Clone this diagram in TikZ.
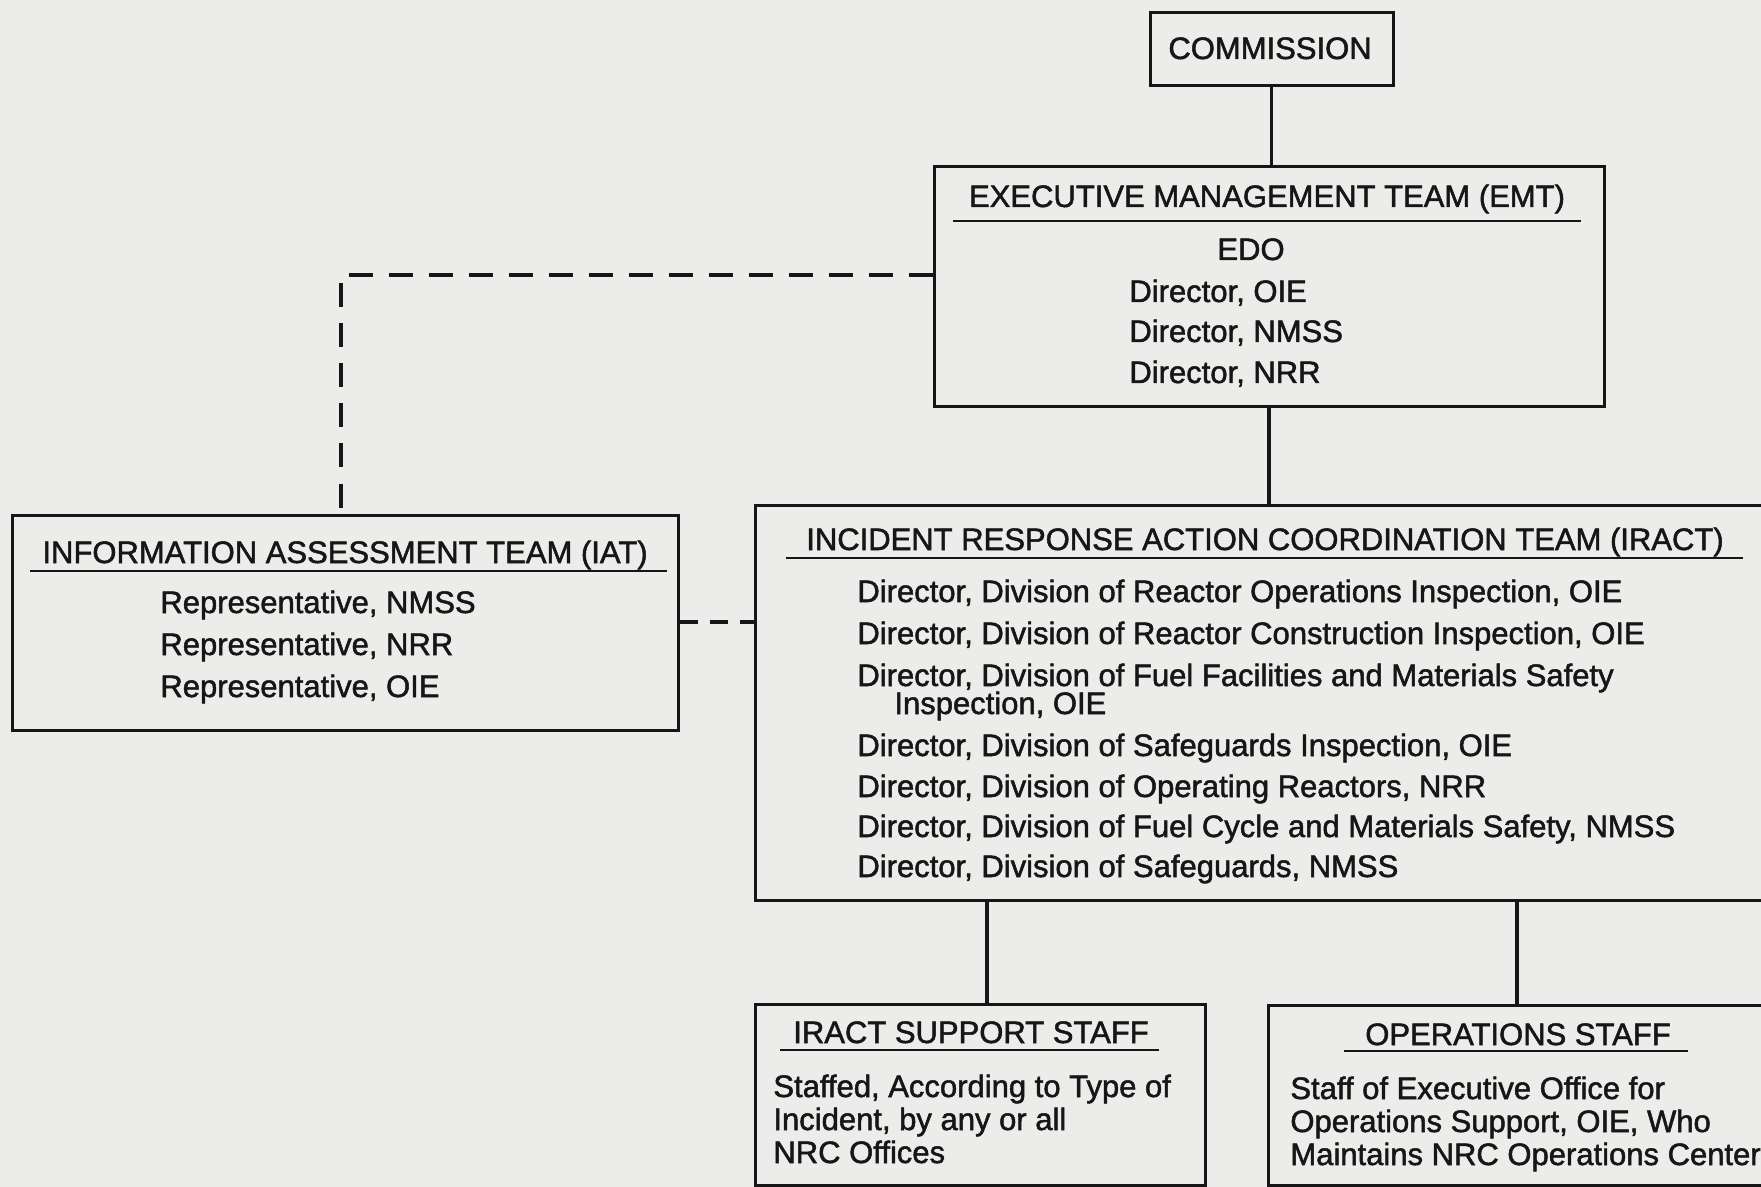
\documentclass[tikz,border=0pt]{standalone}
\usepackage{fontspec}
\setmainfont[FakeBold=1.6]{Liberation Sans}
\definecolor{paper}{RGB}{236,236,234}
\definecolor{ink}{RGB}{22,22,22}
\begin{document}
\begin{tikzpicture}[x=0.5pt,y=-0.5pt,
  boxnode/.style={draw=ink,line width=1.5pt,rectangle,inner sep=0pt},
  conn/.style={draw=ink,line width=1.6pt},
  dashconn/.style={draw=ink,line width=2.2pt,dash pattern=on 12pt off 8pt},
  uline/.style={draw=ink,line width=1.4pt},
  txt/.style={inner sep=0pt,anchor=base west,text=ink,font=\fontsize{15.5}{18}\selectfont},
  ctxt/.style={txt,anchor=base}]
\fill[paper] (0,0) rectangle (1761,1187);
\useasboundingbox (0,0) rectangle (1761,1187);

% boxes
\node[boxnode,minimum width=121.5pt,minimum height=36.5pt] (commission) at (1271.5,49.5) {};
\node[boxnode,minimum width=335pt,minimum height=120pt] (emt) at (1269,287) {};
\node[boxnode,minimum width=333pt,minimum height=107.5pt] (iat) at (345,622.5) {};
\node[boxnode,minimum width=517.5pt,minimum height=197.5pt] (iract) at (1272.5,702.5) {};
\node[boxnode,minimum width=225pt,minimum height=90.5pt] (support) at (980,1094.5) {};
\node[boxnode,minimum width=261pt,minimum height=90pt] (ops) at (1529,1095) {};

% texts
\node[ctxt] (tcom) at (1270,59) {COMMISSION};

\node[ctxt] (temt) at (1267,207) {EXECUTIVE MANAGEMENT TEAM (EMT)};
\draw[uline] (953,221) -- (1581,221);
\node[ctxt] (e1) at (1251,260) {EDO};
\node[txt] (e2) at (1129,302) {Director, OIE};
\node[txt] (e3) at (1129,342) {Director, NMSS};
\node[txt] (e4) at (1129,383) {Director, NRR};

\node[ctxt] (tiat) at (345,563) {INFORMATION ASSESSMENT TEAM (IAT)};
\draw[uline] (30,571) -- (667,571);
\node[txt] (i1) at (160,613) {Representative, NMSS};
\node[txt] (i2) at (160,655) {Representative, NRR};
\node[txt] (i3) at (160,697) {Representative, OIE};

\node[ctxt] (tiract) at (1265,550) {INCIDENT RESPONSE ACTION COORDINATION TEAM (IRACT)};
\draw[uline] (786,558) -- (1743,558);
\node[txt] (r1) at (857,602) {Director, Division of Reactor Operations Inspection, OIE};
\node[txt] (r2) at (857,644) {Director, Division of Reactor Construction Inspection, OIE};
\node[txt] (r3) at (857,686) {Director, Division of Fuel Facilities and Materials Safety};
\node[txt] (r3b) at (894,714) {Inspection, OIE};
\node[txt] (r4) at (857,756) {Director, Division of Safeguards Inspection, OIE};
\node[txt] (r5) at (857,797) {Director, Division of Operating Reactors, NRR};
\node[txt] (r6) at (857,837) {Director, Division of Fuel Cycle and Materials Safety, NMSS};
\node[txt] (r7) at (857,877) {Director, Division of Safeguards, NMSS};

\node[ctxt] (tsup) at (971,1043) {IRACT SUPPORT STAFF};
\draw[uline] (780,1050) -- (1159,1050);
\node[txt] (s1) at (773,1097) {Staffed, According to Type of};
\node[txt] (s2) at (773,1130) {Incident, by any or all};
\node[txt] (s3) at (773,1163) {NRC Offices};

\node[ctxt] (tops) at (1518,1045) {OPERATIONS STAFF};
\draw[uline] (1344,1051) -- (1688,1051);
\node[txt] (o1) at (1290,1099) {Staff of Executive Office for};
\node[txt] (o2) at (1290,1132) {Operations Support, OIE, Who};
\node[txt] (o3) at (1290,1165) {Maintains NRC Operations Center};

% connectors
\draw[conn] (commission.south) -- (commission.south |- emt.north);
\draw[conn] (emt.south) -- (emt.south |- iract.north);
\coordinate (supx) at (987,0);
\coordinate (opsx) at (1517,0);
\draw[conn] (supx |- iract.south) -- (supx |- support.north);
\draw[conn] (opsx |- iract.south) -- (opsx |- ops.north);
\coordinate (bend) at (341,275);
\draw[dashconn] (bend -| emt.west) -- (bend) -- (bend |- iat.north);
\coordinate (dl) at (0,622);
\draw[dashconn,dash pattern=on 9pt off 6pt] (dl -| iat.east) -- (dl -| iract.west);
\end{tikzpicture}
\end{document}
